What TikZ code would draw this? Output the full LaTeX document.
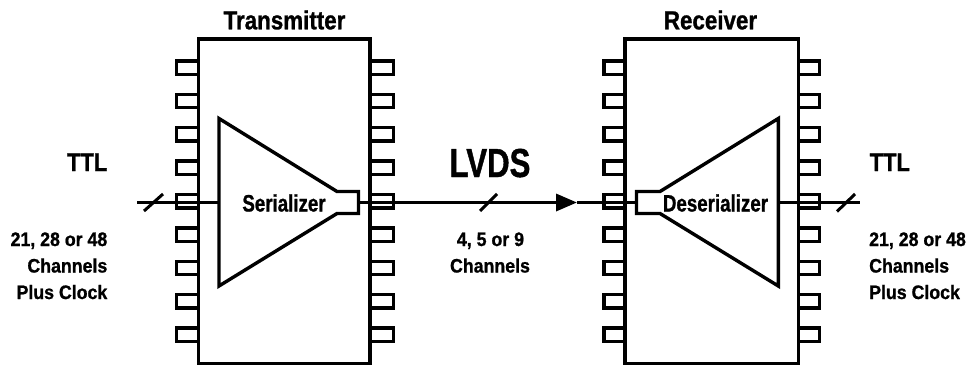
\documentclass[tikz,border=0pt]{standalone}
\usepackage{fontspec}
\setmainfont{Liberation Sans}
\newfontfamily\fA[FakeStretch=0.86,FakeBold=1]{Liberation Sans}
\newfontfamily\fL[FakeStretch=0.77,FakeBold=1]{Liberation Sans}
\newfontfamily\fS[FakeStretch=0.79,FakeBold=1]{Liberation Sans}
\newfontfamily\fC[FakeStretch=0.91,FakeBold=1]{Liberation Sans}
\usetikzlibrary{arrows.meta}
\begin{document}
\begin{tikzpicture}[x=1pt,y=-1pt,line width=3.4pt,line join=miter,
  title/.style={inner sep=0pt,anchor=base,font=\fA\bfseries\fontsize{26}{26}\selectfont},
  ttl/.style={inner sep=0pt,font=\fA\bfseries\fontsize{25.5}{26}\selectfont},
  lvds/.style={inner sep=0pt,anchor=base,font=\fL\bfseries\fontsize{40.5}{41}\selectfont},
  blk/.style={inner sep=0pt,anchor=base,font=\fS\bfseries\fontsize{23.7}{24}\selectfont},
  chan/.style={inner sep=0pt,font=\fC\bfseries\fontsize{19.5}{20}\selectfont},
  slash/.style={line width=3pt},
  arr/.style={-{Triangle[length=21pt,width=17pt]}}]
\useasboundingbox (0,0) rectangle (968,367);
% chips
\draw (198.3,39) rectangle (370,363.3);
\draw (625,39) rectangle (798.3,363.3);
% pins
\foreach \k in {0,...,8}{
  \pgfmathsetmacro\py{67.5+33.4*\k}
  \draw (198.3,{\py-6.7}) -- (176.7,{\py-6.7}) -- (176.7,{\py+6.7}) -- (198.3,{\py+6.7});
  \draw (370,{\py-6.7}) -- (393.5,{\py-6.7}) -- (393.5,{\py+6.7}) -- (370,{\py+6.7});
  \draw (625,{\py-6.7}) -- (604,{\py-6.7}) -- (604,{\py+6.7}) -- (625,{\py+6.7});
  \draw (798.3,{\py-6.7}) -- (819.5,{\py-6.7}) -- (819.5,{\py+6.7}) -- (798.3,{\py+6.7});
}
% serializer / deserializer
\draw (219,118.5) -- (337,191.5) -- (358.5,191.5) -- (358.5,213.5) -- (337,213.5) -- (219,286) -- cycle;
\draw (778.3,118.5) -- (660,191.5) -- (636.5,191.5) -- (636.5,213.5) -- (660,213.5) -- (778.3,286) -- cycle;
% signal coordinates
\coordinate (lin) at (137,202.5);
\coordinate (txtri) at (219,202.5);
\coordinate (txout) at (358.5,202.5);
\coordinate (ah) at (577,202.5);
\coordinate (rxin) at (636.5,202.5);
\coordinate (rxtri) at (778.3,202.5);
\coordinate (rout) at (860,202.5);
\draw (lin) -- (txtri);
\draw[arr] (txout) -- (ah);
\draw (ah) -- (rxin);
\draw (rxtri) -- (rout);
% bus slashes
\draw[slash] (144,211) -- (163,194);
\draw[slash] (480,211) -- (497,194);
\draw[slash] (837,211.5) -- (855,194);
% labels
\node[title] (tt) at (284.5,29.3) {Transmitter};
\node[title] (rt) at (710.5,29.3) {Receiver};
\node[blk] (ser) at (284,211.5) {Serializer};
\node[blk] (des) at (715.5,211.5) {Deserializer};
\node[lvds] (lv) at (490,177) {LVDS};
\node[ttl,anchor=base east] (ttlL) at (109,171) {TTL};
\node[ttl,anchor=base west] (ttlR) at (868,171) {TTL};
\node[chan,anchor=base east] (l1) at (109,246) {21, 28 or 48};
\node[chan,anchor=base east] (l2) at (109,272.5) {Channels};
\node[chan,anchor=base east] (l3) at (109,299) {Plus Clock};
\node[chan,anchor=base] (m1) at (490.5,246) {4, 5 or 9};
\node[chan,anchor=base] (m2) at (490,272.5) {Channels};
\node[chan,anchor=base west] (r1) at (867.5,246) {21, 28 or 48};
\node[chan,anchor=base west] (r2) at (867.5,272.5) {Channels};
\node[chan,anchor=base west] (r3) at (867.5,299) {Plus Clock};
\end{tikzpicture}
\end{document}
